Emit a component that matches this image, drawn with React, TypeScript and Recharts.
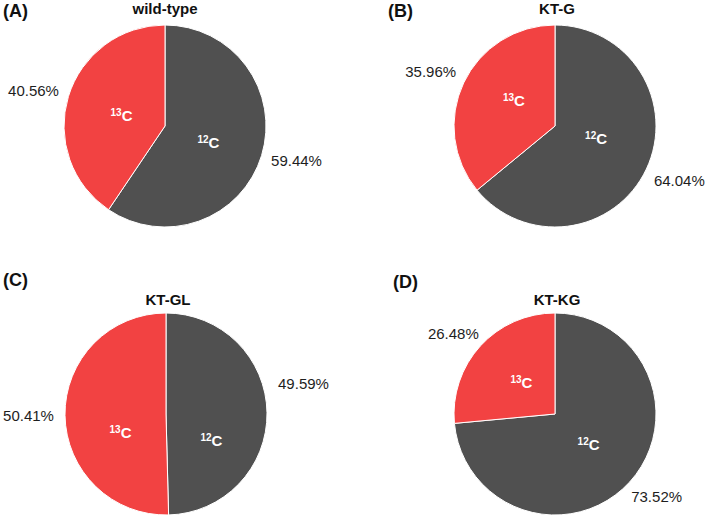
import React from 'react';
import { PieChart, Pie, Cell } from 'recharts';

// ---- data ----
const groups = ['wild-type', 'KT-G', 'KT-GL', 'KT-KG'];
const panelTags = ['(A)', '(B)', '(C)', '(D)'];
const isotopeMass = ['12', '13'];
const isotopeSymbol = 'C';
const c12Percent = [59.44, 64.04, 49.59, 73.52];
const c13Percent = [40.56, 35.96, 50.41, 26.48];

// ---- styles / layout ----
const sliceColors = ['#505050', '#F24242'];
const FONT = '"Liberation Sans", Arial, Helvetica, sans-serif';
const W = 709;
const H = 516;
const RADIUS = 101;
const pieCenters = [
  [165, 126],
  [555, 126],
  [166, 414],
  [555, 414],
];
const titlePos = [
  [165, 9],
  [557, 9],
  [168, 300],
  [557, 300],
];
const tagPos = [
  [3, 11],
  [388, 11],
  [3, 280],
  [393, 282],
];
// vertical nudges of the labels (outer percent, inner isotope) per panel & slice
const outerNudge = [
  [0, 0],
  [4, -3],
  [-28, 0],
  [3, 0],
];
const innerNudge = [
  [4, 3],
  [-6, -6],
  [28, 18],
  [0, 0],
];

const RAD = Math.PI / 180;

const makeLabel = (panel: number) => (props: any) => {
  const { cx, cy, midAngle, outerRadius, index, value } = props;
  const ux = Math.cos(-midAngle * RAD);
  const uy = Math.sin(-midAngle * RAD);
  const gap = 11;
  const boxW = 51;
  const boxH = 14;
  const px = cx + (outerRadius + gap) * ux + (ux * boxW) / 2;
  const py = cy + (outerRadius + gap) * uy + (uy * boxH) / 2 + outerNudge[panel][index];
  const ix = cx + outerRadius * 0.45 * ux;
  const iy = cy + outerRadius * 0.45 * uy + innerNudge[panel][index];
  return (
    <g>
      <text
        x={px}
        y={py + 5}
        textAnchor="middle"
        fontSize={15}
        fontFamily={FONT}
        fill="#1e1e1e"
      >
        {Number(value).toFixed(2)}%
      </text>
      <text
        x={ix}
        y={iy + 5}
        textAnchor="middle"
        fontFamily={FONT}
        fontWeight="bold"
        fill="#ffffff"
      >
        <tspan fontSize={10} dy={-5}>
          {isotopeMass[index]}
        </tspan>
        <tspan fontSize={15} dy={5}>
          {isotopeSymbol}
        </tspan>
      </text>
    </g>
  );
};

export default function App() {
  return (
    <div
      style={{
        position: 'absolute',
        left: 0,
        top: 0,
        width: W,
        height: H,
        background: '#ffffff',
        fontFamily: FONT,
      }}
    >
      <PieChart width={W} height={H} margin={{ top: 0, right: 0, bottom: 0, left: 0 }}>
        {groups.map((g, i) => {
          const data = [
            { name: isotopeMass[0] + isotopeSymbol, value: c12Percent[i] },
            { name: isotopeMass[1] + isotopeSymbol, value: c13Percent[i] },
          ];
          return (
            <Pie
              key={g}
              data={data}
              dataKey="value"
              nameKey="name"
              cx={pieCenters[i][0]}
              cy={pieCenters[i][1]}
              innerRadius={0}
              outerRadius={RADIUS}
              startAngle={90}
              endAngle={-270}
              stroke="#ffffff"
              strokeWidth={1}
              label={makeLabel(i)}
              labelLine={false}
              isAnimationActive={false}
            >
              {data.map((d, j) => (
                <Cell key={d.name} fill={sliceColors[j]} />
              ))}
            </Pie>
          );
        })}
      </PieChart>
      <svg
        width={W}
        height={H}
        style={{ position: 'absolute', left: 0, top: 0, pointerEvents: 'none' }}
      >
        {groups.map((g, i) => (
          <text
            key={'t' + g}
            x={titlePos[i][0]}
            y={titlePos[i][1] + 5}
            textAnchor="middle"
            fontSize={15}
            fontWeight="bold"
            fontFamily={FONT}
            fill="#111"
          >
            {g}
          </text>
        ))}
        {panelTags.map((t, i) => (
          <text
            key={t}
            x={tagPos[i][0]}
            y={tagPos[i][1] + 6}
            textAnchor="start"
            fontSize={18}
            fontWeight="bold"
            fontFamily={FONT}
            fill="#111"
          >
            {t}
          </text>
        ))}
      </svg>
    </div>
  );
}
